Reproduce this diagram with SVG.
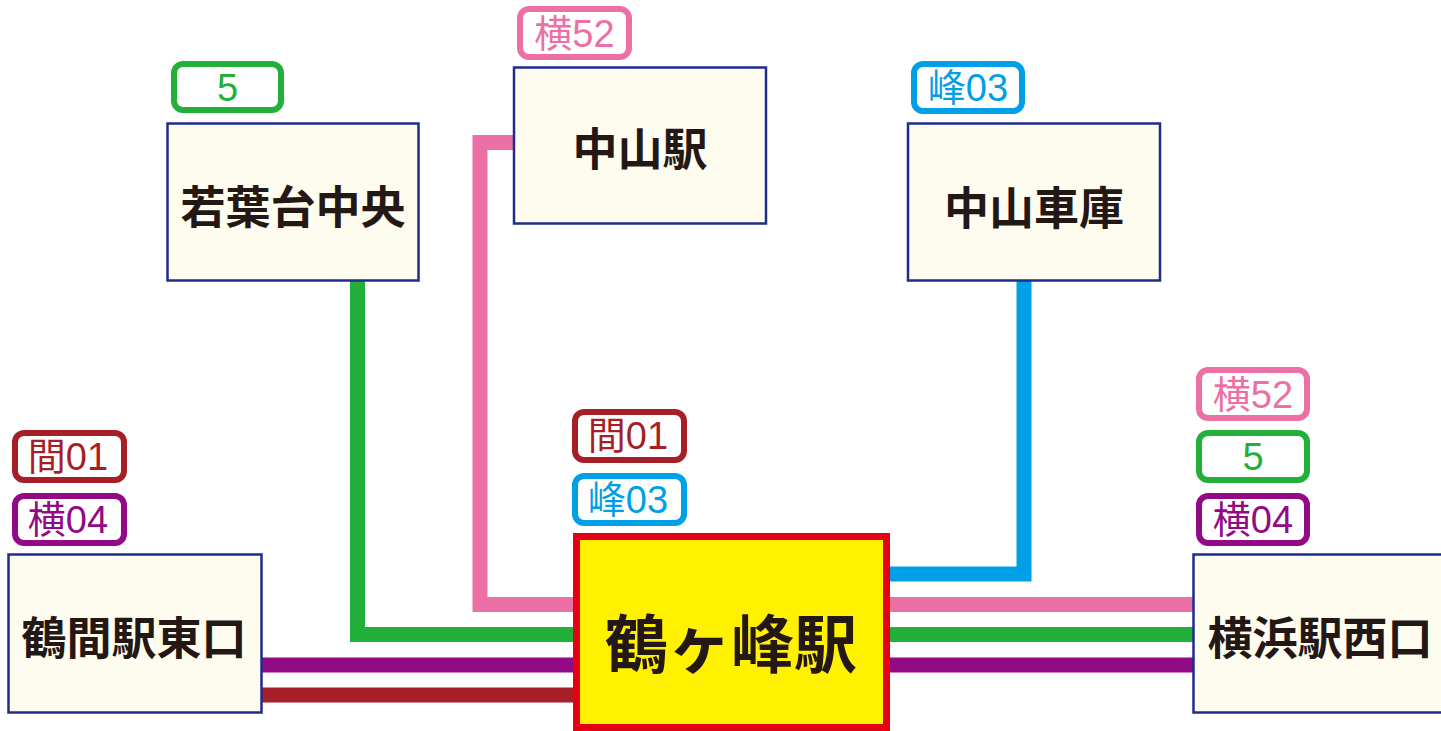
<svg xmlns="http://www.w3.org/2000/svg" width="1441" height="731" viewBox="0 0 1441 731">
<style>
.box{fill:#FEFCEE;stroke:#1E2C8C;stroke-width:2.5}
.name{font-family:"Noto Sans CJK JP","Noto Sans CJK SC",sans-serif;font-weight:bold;font-size:45px;fill:#231815;text-anchor:middle;dominant-baseline:central}
.tag{fill:#fff;stroke-width:6}
.tt{font-family:"Liberation Sans","Noto Sans CJK JP",sans-serif;font-size:38px;text-anchor:middle;dominant-baseline:central}
.ln{fill:none;stroke-width:15}
.pink{stroke:#EC70A5}.green{stroke:#22AF3A}.purple{stroke:#920A86}.red{stroke:#A61F26}.blue{stroke:#00A0E6}
.fpink{fill:#EC70A5}.fgreen{fill:#22AF3A}.fpurple{fill:#920A86}.fred{fill:#A61F26}.fblue{fill:#00A0E6}
</style>
<g id="connectors">
<polyline class="ln pink" points="514,142.5 480,142.5 480,604.5 574,604.5"/>
<polyline class="ln green" points="357.5,281 357.5,634.5 574,634.5"/>
<line class="ln purple" x1="262" y1="665" x2="574" y2="665"/>
<line class="ln red" x1="262" y1="695" x2="574" y2="695"/>
<polyline class="ln blue" points="888,574 1024,574 1024,281"/>
<line class="ln pink" x1="888" y1="604.5" x2="1194" y2="604.5"/>
<line class="ln green" x1="888" y1="634.5" x2="1194" y2="634.5"/>
<line class="ln purple" x1="888" y1="665" x2="1194" y2="665"/>
</g>
<g id="wakabadai">
<rect class="box" x="167.5" y="123.5" width="251" height="157"/>
<text class="name" x="293" y="204">若葉台中央</text>
<rect class="tag green" x="174" y="64" width="107" height="46" rx="9"/>
<text class="tt fgreen" x="227.5" y="88">5</text>
</g>
<g id="nakayama-eki">
<rect class="box" x="514" y="67.5" width="252" height="156"/>
<text class="name" x="640" y="146">中山駅</text>
<rect class="tag pink" x="520" y="9" width="109" height="48" rx="9"/>
<text class="tt fpink" x="574.5" y="34">横52</text>
</g>
<g id="nakayama-shako">
<rect class="box" x="908" y="123.5" width="252" height="157"/>
<text class="name" x="1034" y="205">中山車庫</text>
<rect class="tag blue" x="914" y="64" width="108" height="47" rx="9"/>
<text class="tt fblue" x="968" y="88">峰03</text>
</g>
<g id="tsuruma">
<rect class="box" x="8.5" y="554.5" width="253" height="158"/>
<text class="name" x="134" y="635">鶴間駅東口</text>
<rect class="tag red" x="15" y="433" width="109" height="47" rx="9"/>
<text class="tt fred" x="68" y="457">間01</text>
<rect class="tag purple" x="15" y="496" width="109" height="47" rx="9"/>
<text class="tt fpurple" x="68" y="520">横04</text>
</g>
<g id="tsurugamine">
<rect x="576.5" y="536.5" width="310" height="191" fill="#FFF100" stroke="#E60012" stroke-width="7"/>
<text class="name" x="731" y="639" style="font-size:63px">鶴ヶ峰駅</text>
<rect class="tag red" x="575" y="412" width="109" height="48" rx="9"/>
<text class="tt fred" x="628" y="436">間01</text>
<rect class="tag blue" x="575" y="476" width="109" height="47" rx="9"/>
<text class="tt fblue" x="628" y="500">峰03</text>
</g>
<g id="yokohama">
<rect class="box" x="1193.5" y="554.5" width="252" height="158"/>
<text class="name" x="1320" y="635">横浜駅西口</text>
<rect class="tag pink" x="1199" y="370" width="108" height="48" rx="9"/>
<text class="tt fpink" x="1253" y="395">横52</text>
<rect class="tag green" x="1199" y="433" width="108" height="47" rx="9"/>
<text class="tt fgreen" x="1253" y="457">5</text>
<rect class="tag purple" x="1199" y="496" width="108" height="47" rx="9"/>
<text class="tt fpurple" x="1253" y="520">横04</text>
</g>
</svg>
